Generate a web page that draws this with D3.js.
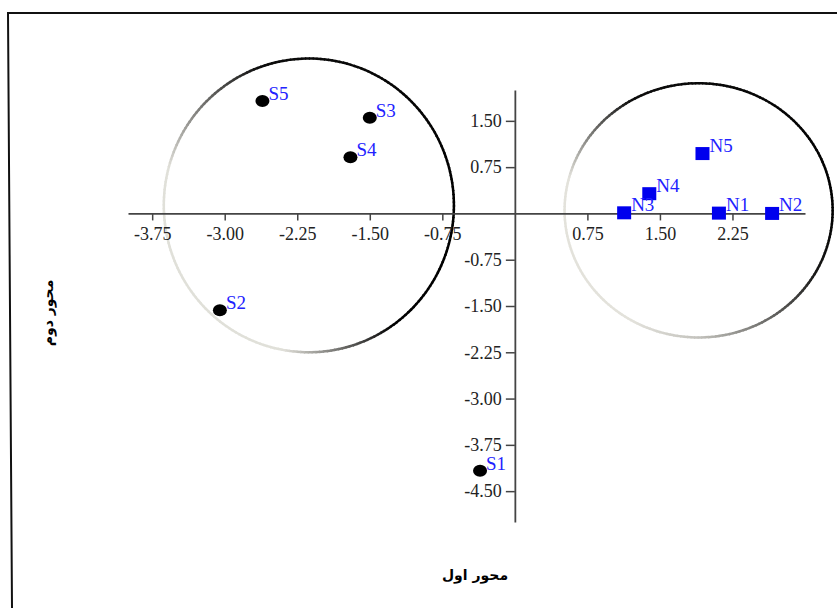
<!DOCTYPE html>
<html><head><meta charset="utf-8">
<script src="https://cdn.jsdelivr.net/npm/d3@7"></script>
<style>html,body{margin:0;padding:0;background:#fff;}</style>
</head><body>
<svg id="chart" width="837" height="608"></svg>
<script>
const sLabels = ["S1","S2","S3","S4","S5"];
const sX = [-0.36, -3.05, -1.50, -1.70, -2.61];
const sY = [-4.17, -1.57, 1.55, 0.91, 1.82];
const nLabels = ["N1","N2","N3","N4","N5"];
const nX = [2.11, 2.66, 1.13, 1.39, 1.94];
const nY = [0.005, 0.0, 0.01, 0.32, 0.97];
const xTicks = [-3.75, -3.00, -2.25, -1.50, -0.75, 0.75, 1.50, 2.25];
const yTicks = [1.50, 0.75, -0.75, -1.50, -2.25, -3.00, -3.75, -4.50];
const xTitle = "محور اول";
const yTitle = "محور دوم";
// group ellipses in data units: [cx, cy, rx, ry]
const groupEllipses = [[-2.13, 0.13, 1.50, 2.38], [1.90, 0.05, 1.386, 2.06]];
// stroke shading around each ellipse: [screen angle deg, lightness 0..1]
const shading = [
  [[0,0],[55,0],[100,0.92],[195,0.92],[250,0.05],[360,0]],
  [[0,0],[30,0.1],[90,0.8],[120,0.93],[195,0.93],[240,0.05],[360,0]]
];

const svg = d3.select("#chart");
const x = d3.scaleLinear().domain([-4, 3]).range([128, 805]);
const y = d3.scaleLinear().domain([-5, 2]).range([522, 90]);
const fmt = d => d3.format(".2f")(d).replace("\u2212", "-");

// frame
svg.append("path").attr("d", "M837,13 L8,13 L12,608")
  .attr("fill", "none").attr("stroke", "#111").attr("stroke-width", 2);

// shaded ellipses drawn as many short segments
const pale = d3.rgb("#f4f3ec"), dark = d3.rgb("#000");
groupEllipses.forEach((e, idx) => {
  const cx = x(e[0]), cy = y(e[1]);
  const rx = x(e[2]) - x(0), ry = y(0) - y(e[3]);
  const st = shading[idx];
  const light = d3.scaleLinear().domain(st.map(s => s[0])).range(st.map(s => s[1]));
  const N = 240;
  const segs = d3.range(N).map(k => {
    const a0 = k / N * 2 * Math.PI, a1 = (k + 1.3) / N * 2 * Math.PI;
    const mid = (k + 0.5) / N * 360;
    return {a0, a1, c: d3.interpolateRgb(dark, pale)(light(mid))};
  });
  svg.append("g").selectAll("path").data(segs).enter().append("path")
    .attr("d", s => `M${cx + rx * Math.cos(s.a0)},${cy + ry * Math.sin(s.a0)} L${cx + rx * Math.cos(s.a1)},${cy + ry * Math.sin(s.a1)}`)
    .attr("stroke", s => s.c).attr("stroke-width", 2.5).attr("fill", "none");
});

// axes
const xAxis = d3.axisBottom(x).tickValues(xTicks).tickFormat(fmt)
  .tickSize(7).tickSizeOuter(0).tickPadding(7);
const yAxis = d3.axisLeft(y).tickValues(yTicks).tickFormat(fmt)
  .tickSize(9).tickSizeOuter(0).tickPadding(4);
const gx = svg.append("g").attr("transform", `translate(0,${y(0)})`).call(xAxis);
const gy = svg.append("g").attr("transform", `translate(${x(0)},0)`).call(yAxis);
[gx, gy].forEach(g => {
  g.select(".domain").attr("stroke", "#444").attr("stroke-width", 1.8);
  g.selectAll(".tick line").attr("stroke", "#444").attr("stroke-width", 1.5);
  g.selectAll(".tick text").attr("font-family", "'Liberation Serif', serif")
    .attr("font-size", 18).attr("fill", "#222");
});

// S points
const sData = sLabels.map((l, i) => ({l, x: sX[i], y: sY[i]}));
svg.selectAll("ellipse.s").data(sData).enter().append("ellipse")
  .attr("class", "s").attr("cx", d => x(d.x)).attr("cy", d => y(d.y))
  .attr("rx", 7).attr("ry", 6).attr("fill", "#000");
svg.selectAll("text.sl").data(sData).enter().append("text")
  .attr("class", "sl").attr("x", d => x(d.x) + 6).attr("y", d => y(d.y) - 1)
  .attr("font-family", "'Liberation Serif', serif").attr("font-size", 19)
  .attr("fill", "#2222ff").text(d => d.l);

// N points
const nData = nLabels.map((l, i) => ({l, x: nX[i], y: nY[i]}));
svg.selectAll("rect.n").data(nData).enter().append("rect")
  .attr("class", "n").attr("x", d => x(d.x) - 7).attr("y", d => y(d.y) - 6.5)
  .attr("width", 14).attr("height", 13).attr("fill", "#0000ee");
svg.selectAll("text.nl").data(nData).enter().append("text")
  .attr("class", "nl").attr("x", d => x(d.x) + 7).attr("y", d => y(d.y) - 2)
  .attr("font-family", "'Liberation Serif', serif").attr("font-size", 19)
  .attr("fill", "#2222ff").text(d => d.l);

// titles
svg.append("text").attr("x", 475).attr("y", 580).attr("text-anchor", "middle")
  .attr("font-family", "'DejaVu Sans', sans-serif").attr("font-weight", "bold")
  .attr("font-size", 14).attr("direction", "rtl").text(xTitle);
svg.append("text").attr("transform", "translate(53,313) rotate(-90)")
  .attr("text-anchor", "middle")
  .attr("font-family", "'DejaVu Sans', sans-serif").attr("font-weight", "bold")
  .attr("font-size", 14).text(yTitle);
</script>
</body></html>
